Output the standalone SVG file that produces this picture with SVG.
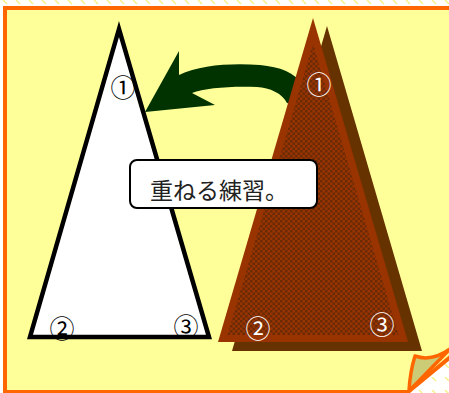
<svg xmlns="http://www.w3.org/2000/svg" width="449" height="393" viewBox="0 0 449 393">
  <defs>
    <pattern id="dash" width="13" height="13" patternUnits="userSpaceOnUse">
      <rect width="13" height="13" fill="#ffffff"/>
      <line x1="3" y1="0" x2="7" y2="4" stroke="#f8f08a" stroke-width="1.6"/>
    </pattern>
    <pattern id="check" width="5" height="5" patternUnits="userSpaceOnUse">
      <rect width="5" height="5" fill="#993300"/>
      <rect width="2.5" height="2.5" fill="#6a2a05"/>
      <rect x="2.5" y="2.5" width="2.5" height="2.5" fill="#6a2a05"/>
    </pattern>
    <style>
      .num { font-family: "Noto Sans CJK JP", "DejaVu Sans", sans-serif; font-size: 25px; text-anchor: middle; }
      .blk { fill: #000000; }
      .wht { fill: #ffffff; }
      .lbl { font-family: "Noto Sans CJK JP", sans-serif; font-size: 23px; fill: #222222; }
    </style>
  </defs>

  <!-- background -->
  <rect x="0" y="0" width="449" height="393" fill="url(#dash)"/>
  <path d="M5,8 L460,8 L460,349 L408,392 L5,392 Z" fill="#ffff99" stroke="#ff6600" stroke-width="4"/>
  <path id="curl" d="M415,356 Q432,362 450,349 L409,391 Q410,372 415,356 Z" fill="#cccc77" stroke="#ff6600" stroke-width="3.5" stroke-linejoin="round"/>

  <g id="connectors">
    <path d="M145,112 L179,51 L179,75 C200,65 230,63 260,65 C280,67 295,72 303,86 L300,106 L287,103 C282,93 270,88 257,87 C230,86 205,88 192,93 L215,105 Z" fill="#003300"/>
  </g>

  <g id="whiteTriangle">
    <polygon points="119,29 30,337 209,337" fill="#ffffff" stroke="#000000" stroke-width="4.5" stroke-linejoin="miter"/>
    <text class="num blk" x="123" y="97">①</text>
    <text class="num blk" x="62" y="338">②</text>
    <text class="num blk" x="186" y="336">③</text>
  </g>

  <g id="brownTriangles">
    <polygon points="327,26 232,351 422,351" fill="#663300"/>
    <polygon points="313,18 218,342 408,342" fill="#993300"/>
    <polygon points="313,44 227.5,335 398.5,335" fill="url(#check)"/>
    <text class="num wht" x="319" y="94">①</text>
    <text class="num wht" x="258" y="338">②</text>
    <text class="num wht" x="382" y="334">③</text>
  </g>

  <g id="label">
    <rect x="130" y="160" width="187" height="48" rx="7" ry="7" fill="#ffffff" stroke="#000000" stroke-width="2"/>
    <text class="lbl" x="150" y="199">重ねる練習。</text>
  </g>
</svg>
